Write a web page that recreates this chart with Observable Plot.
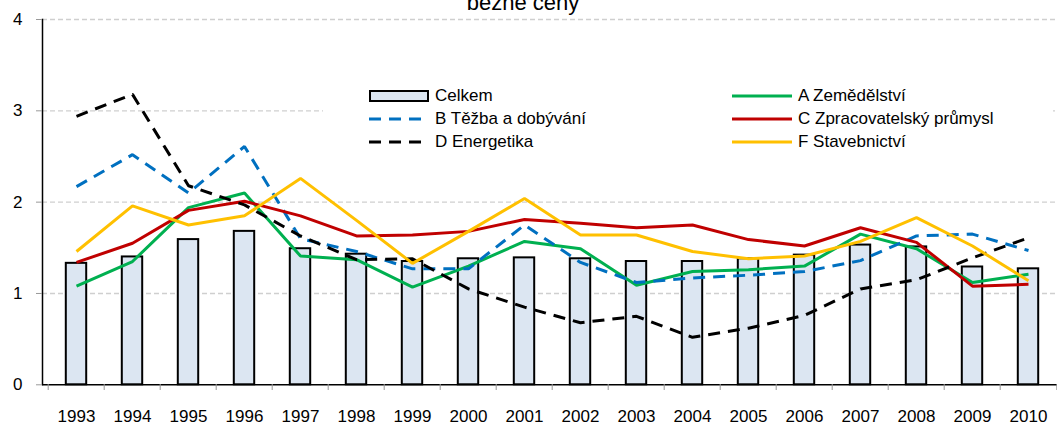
<!DOCTYPE html>
<html>
<head>
<meta charset="utf-8">
<script src="https://cdn.jsdelivr.net/npm/d3@7"></script>
<script src="https://cdn.jsdelivr.net/npm/@observablehq/plot@0.6"></script>
<style>
  body { margin: 0; background: #fff; font-family: "Liberation Sans", Arial, sans-serif; }
  #wrap { position: relative; width: 1057px; height: 425px; overflow: hidden; }
  #legend { position: absolute; left: 323px; top: 72px; width: 730px; height: 95px; background: #fff; }
  .item { position: absolute; display: flex; align-items: center; height: 23px; font-size: 17px; color: #000; white-space: nowrap; }
  .item svg { margin-right: 6px; }
</style>
</head>
<body>
<div id="wrap"></div>
<script>
const years = ["1993","1994","1995","1996","1997","1998","1999","2000","2001","2002","2003","2004","2005","2006","2007","2008","2009","2010"];
const celkem = [1.33,1.40,1.59,1.68,1.49,1.43,1.35,1.38,1.39,1.38,1.35,1.35,1.38,1.42,1.53,1.51,1.29,1.27];
const zemedelstvi = [1.08,1.35,1.94,2.10,1.41,1.37,1.07,1.30,1.57,1.49,1.09,1.24,1.26,1.30,1.65,1.49,1.12,1.21];
const tezba = [2.17,2.52,2.10,2.61,1.60,1.46,1.27,1.27,1.75,1.34,1.12,1.17,1.20,1.24,1.36,1.63,1.65,1.47];
const zpracovatelsky = [1.34,1.55,1.91,2.01,1.85,1.63,1.64,1.68,1.81,1.77,1.72,1.75,1.59,1.52,1.72,1.56,1.08,1.10];
const energetika = [2.94,3.18,2.18,1.97,1.63,1.37,1.38,1.05,0.85,0.68,0.75,0.52,0.62,0.76,1.05,1.15,1.39,1.61];
const stavebnictvi = [1.46,1.96,1.75,1.85,2.26,1.80,1.33,1.68,2.04,1.64,1.64,1.46,1.38,1.41,1.57,1.83,1.52,1.14];
const yTicks = [0,1,2,3,4];
const title = "běžné ceny";

const series = [
  {name: "A Zemědělství", values: zemedelstvi, color: "#00b050", dash: null},
  {name: "B Těžba a dobývání", values: tezba, color: "#0070c0", dash: "12,8"},
  {name: "C Zpracovatelský průmysl", values: zpracovatelsky, color: "#c00000", dash: null},
  {name: "D Energetika", values: energetika, color: "#000000", dash: "12,8"},
  {name: "F Stavebnictví", values: stavebnictvi, color: "#ffc000", dash: null}
];

const bars = years.map((y, i) => ({year: y, value: celkem[i]}));
const half = 56.6 / 2;

const lineMarks = series.map(s =>
  Plot.line(years.map((y, i) => ({year: y, value: s.values[i]})), {
    x: "year", y: "value", stroke: s.color, strokeWidth: 3,
    strokeDasharray: s.dash, strokeLinejoin: "miter", strokeLinecap: "butt"
  })
);

const chart = Plot.plot({
  width: 1057,
  height: 425,
  marginLeft: 42,
  marginRight: 0,
  marginTop: 19,
  marginBottom: 41,
  style: {fontFamily: "Liberation Sans, Arial, sans-serif", fontSize: "17px", color: "#000", background: "#fff", overflow: "visible"},
  x: {type: "band", domain: years, range: [42.3, 1061], padding: 0, label: null},
  y: {domain: [0, 4], range: [384.3, 19], label: null},
  marks: [
    Plot.gridY(yTicks.slice(1), {stroke: "#cfcfcf", strokeOpacity: 1, strokeDasharray: "5,3", strokeWidth: 1.3}),
    Plot.barY(bars, {x: "year", y: "value", fill: "#dce6f2", stroke: "#000", strokeWidth: 2, insetLeft: 17.8, insetRight: 17.8}),
    ...lineMarks,
    Plot.ruleY([0], {stroke: "#000", strokeWidth: 1.5}),
    Plot.frame({anchor: "left", stroke: "#000", strokeWidth: 1.5}),
    Plot.axisY(yTicks, {tickSize: 6, tickPadding: 14, stroke: "#999", fontSize: 17, fill: "#000", label: null, tickFormat: d => String(d)}),
    Plot.axisX(years, {tickSize: 6, dx: -half, stroke: "#999", tickFormat: () => "", label: null}),
    Plot.axisX([years[years.length - 1]], {tickSize: 6, dx: half, stroke: "#999", tickFormat: () => "", label: null}),
    Plot.axisX(years, {tickSize: 0, tickPadding: 25, fontSize: 17, fill: "#000", label: null}),
    Plot.text([title], {frameAnchor: "top", dy: -10, dx: -27, fontSize: 22, lineAnchor: "bottom", fill: "#000"})
  ]
});

const wrap = document.getElementById("wrap");
wrap.appendChild(chart);

// Legend
const legend = document.createElement("div");
legend.id = "legend";
wrap.appendChild(legend);
const legendItems = [
  {name: "Celkem", type: "bar", col: 0, row: 0},
  {name: series[1].name, type: "line", color: series[1].color, dash: series[1].dash, col: 0, row: 1},
  {name: series[3].name, type: "line", color: series[3].color, dash: series[3].dash, col: 0, row: 2},
  {name: series[0].name, type: "line", color: series[0].color, dash: null, col: 1, row: 0},
  {name: series[2].name, type: "line", color: series[2].color, dash: null, col: 1, row: 1},
  {name: series[4].name, type: "line", color: series[4].color, dash: null, col: 1, row: 2}
];
const colX = [46, 409];
for (const it of legendItems) {
  const d = document.createElement("div");
  d.className = "item";
  d.style.left = colX[it.col] + "px";
  d.style.top = (12 + it.row * 23) + "px";
  let sw;
  if (it.type === "bar") {
    sw = `<svg width="60" height="14"><rect x="1" y="2" width="58" height="10" fill="#dce6f2" stroke="#000" stroke-width="2"/></svg>`;
  } else {
    sw = `<svg width="60" height="14"><line x1="0" x2="60" y1="7" y2="7" stroke="${it.color}" stroke-width="3" ${it.dash ? `stroke-dasharray="${it.dash}"` : ""}/></svg>`;
  }
  d.innerHTML = sw + `<span>${it.name}</span>`;
  legend.appendChild(d);
}
</script>
</body>
</html>
